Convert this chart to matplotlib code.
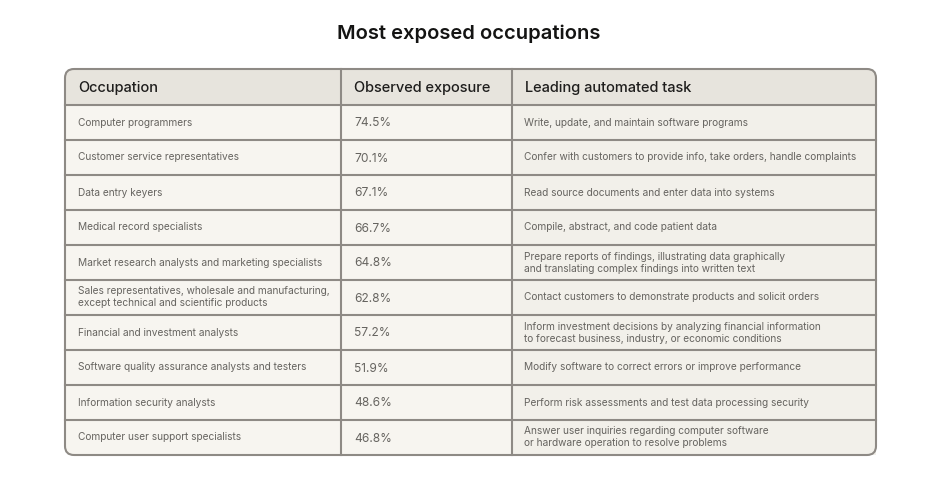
import matplotlib.pyplot as plt
from matplotlib.patches import FancyBboxPatch, Rectangle

plt.rcParams['font.family'] = ['Inter', 'DejaVu Sans']

title = 'Most exposed occupations'
headers = ['Occupation', 'Observed exposure', 'Leading automated task']
occupations = [
    'Computer programmers',
    'Customer service representatives',
    'Data entry keyers',
    'Medical record specialists',
    'Market research analysts and marketing specialists',
    'Sales representatives, wholesale and manufacturing,\nexcept technical and scientific products',
    'Financial and investment analysts',
    'Software quality assurance analysts and testers',
    'Information security analysts',
    'Computer user support specialists',
]
exposure = [74.5, 70.1, 67.1, 66.7, 64.8, 62.8, 57.2, 51.9, 48.6, 46.8]
tasks = [
    'Write, update, and maintain software programs',
    'Confer with customers to provide info, take orders, handle complaints',
    'Read source documents and enter data into systems',
    'Compile, abstract, and code patient data',
    'Prepare reports of findings, illustrating data graphically\nand translating complex findings into written text',
    'Contact customers to demonstrate products and solicit orders',
    'Inform investment decisions by analyzing financial information\nto forecast business, industry, or economic conditions',
    'Modify software to correct errors or improve performance',
    'Perform risk assessments and test data processing security',
    'Answer user inquiries regarding computer software\nor hardware operation to resolve problems',
]

W, H = 944, 482
fig = plt.figure(figsize=(W / 100, H / 100), dpi=100)
ax = fig.add_axes([0, 0, 1, 1])
ax.set_xlim(0, W)
ax.set_ylim(H, 0)
ax.axis('off')

left, right = 65, 876
top, bottom = 69, 455
head_h = 36
col_x = [left, 341, 512, right]
row_h = (bottom - top - head_h) / len(occupations)
border = '#8e8a85'

# background with rounded corners
ax.add_patch(FancyBboxPatch((left, top), right - left, bottom - top,
                            boxstyle='round,pad=0,rounding_size=9',
                            fc='#f7f5f0', ec='none', zorder=1))
ax.add_patch(Rectangle((col_x[2], top + head_h), right - col_x[2], bottom - top - head_h,
                       fc='#f2f0ea', ec='none', zorder=1))
# header band
hdr = FancyBboxPatch((left, top), right - left, bottom - top,
                     boxstyle='round,pad=0,rounding_size=9',
                     fc='#e7e4dd', ec='none', zorder=2)
ax.add_patch(hdr)
clip = Rectangle((left, top), right - left, head_h, transform=ax.transData)
hdr.set_clip_path(clip)

# grid lines
for i in range(len(occupations)):
    y = top + head_h + i * row_h
    ax.plot([left, right], [y, y], color=border, lw=1.5, zorder=3)
for x in col_x[1:3]:
    ax.plot([x, x], [top, bottom], color=border, lw=1.5, zorder=3)
ax.add_patch(FancyBboxPatch((left, top), right - left, bottom - top,
                            boxstyle='round,pad=0,rounding_size=9',
                            fc='none', ec=border, lw=1.5, zorder=4))

ax.text(W / 2 - 3, 34, title, ha='center', va='center', fontsize=14.5,
        fontweight='semibold', color='#141413')

for j, h in enumerate(headers):
    ax.text(col_x[j] + 13, top + head_h / 2 + 1, h, ha='left', va='center',
            fontsize=10.5, fontweight='medium', color='#1f1e1d')

txt = '#666460'
for i in range(len(occupations)):
    yc = top + head_h + (i + 0.5) * row_h
    ax.text(col_x[0] + 13, yc, occupations[i], ha='left', va='center',
            fontsize=7.3, color=txt, linespacing=1.25)
    ax.text(col_x[1] + 13, yc + 1, f'{exposure[i]:.1f}%', ha='left', va='center',
            fontsize=8.6, color=txt)
    ax.text(col_x[2] + 12, yc, tasks[i], ha='left', va='center',
            fontsize=7.3, color=txt, linespacing=1.25)

fig.savefig('out.png', dpi=100, facecolor='white')
